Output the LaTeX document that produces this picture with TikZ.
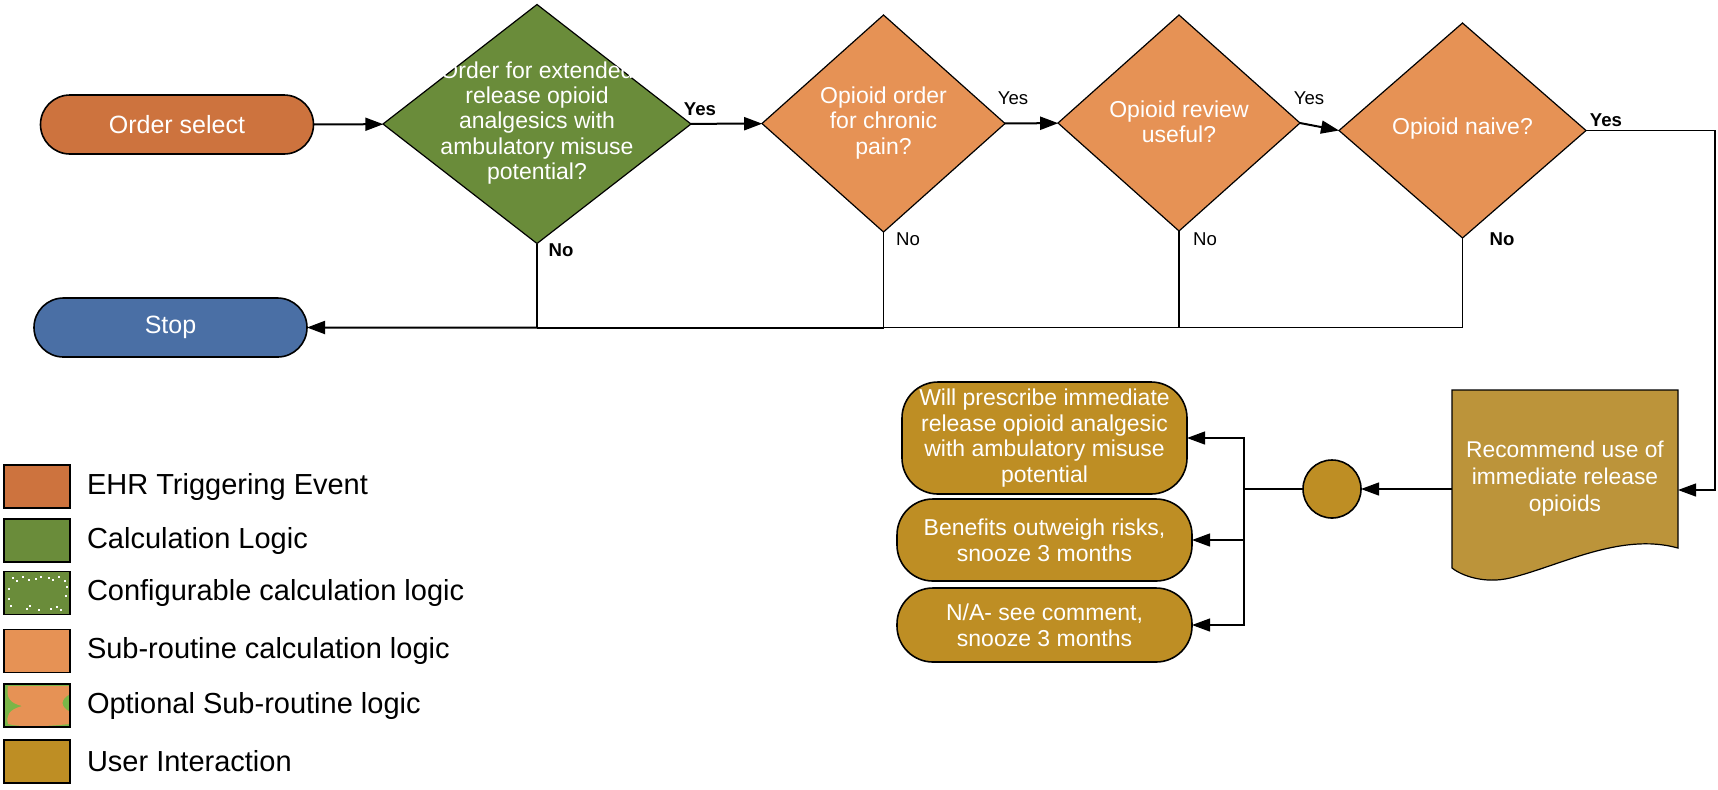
\documentclass[tikz,border=0pt]{standalone}
\usepackage{fontspec}
\setmainfont{Liberation Sans}
\usetikzlibrary{shapes.geometric,shapes.misc,arrows.meta}

\definecolor{ordercol}{RGB}{205,115,62}
\definecolor{greencol}{RGB}{106,140,58}
\definecolor{subcol}{RGB}{230,146,85}
\definecolor{stopcol}{RGB}{74,111,165}
\definecolor{usercol}{RGB}{190,142,36}
\definecolor{doccol}{RGB}{188,148,58}
\definecolor{optgreen}{RGB}{122,182,72}

\begin{document}
\begin{tikzpicture}[x=0.5pt,y=-0.5pt]
\tikzstyle{every node}+=[inner sep=0pt, outer sep=0pt]
\tikzset{
  pill/.style={rounded rectangle, draw=black, line width=0.8pt, minimum width=136.5pt, minimum height=29.5pt, text=white, font=\fontsize{12.5}{15}\selectfont},
  decide/.style={diamond, draw=black, line width=0.6pt, fill=subcol},
  qtext/.style={text=white, align=center, font=\fontsize{11.5}{12.6}\selectfont},
  choice/.style={rectangle, rounded corners=18pt, draw=black, line width=0.8pt, fill=usercol, text=white, align=center, minimum width=147.5pt, font=\fontsize{11.5}{12.8}\selectfont},
  docnode/.style={rectangle, minimum width=113pt, minimum height=89pt, text=white, align=center, font=\fontsize{11.4}{13.5}\selectfont},
  flow/.style={line width=1pt, -{Triangle[length=9pt,width=6.5pt]}},
  branch/.style={line width=0.6pt},
  lbl/.style={font=\fontsize{9.3}{11}\selectfont},
  lblb/.style={font=\fontsize{9.3}{11}\selectfont\bfseries},
  legbox/.style={draw=black, line width=0.6pt, minimum width=33pt, minimum height=21.5pt},
  legtext/.style={anchor=west, font=\fontsize{14.5}{16}\selectfont}
}
\useasboundingbox (0,0) rectangle (1718,789);

% main row
\node[pill, fill=ordercol] (order) at (177,124.5) {Order select};
\node[pill, fill=stopcol] (stop) at (170.5,327.5) {Stop};
\node[decide, fill=greencol, minimum width=154pt, minimum height=119.5pt] (d1) at (537,124) {};
\node[qtext] (d1txt) at (537,123) {Order for extended\\release opioid\\analgesics with\\ambulatory misuse\\potential?};
\node[decide, minimum width=121.5pt, minimum height=108.5pt] (d2) at (883.5,123.5) {};
\node[qtext] (d2txt) at (883.5,123) {Opioid order\\for chronic\\pain?};
\node[decide, minimum width=121pt, minimum height=108pt] (d3) at (1179,123) {};
\node[qtext] (d3txt) at (1179,122) {Opioid review\\useful?};
\node[decide, minimum width=123.5pt, minimum height=107.5pt] (d4) at (1462.5,130.5) {};
\node[qtext] (d4txt) at (1462.5,129) {Opioid naive?};

\draw[flow] (order) -- (d1);
\draw[flow] (d1) -- (d2);
\draw[flow] (d2) -- (d3);
\draw[flow] (d3.east) -- (d4.west);

\node[lblb] (y1) at (700,109) {Yes};
\node[lblb] (n1) at (561,250) {No};
\node[lbl] (y2) at (1013,98) {Yes};
\node[lbl] (n2) at (908,239) {No};
\node[lbl] (y3) at (1309,98) {Yes};
\node[lbl] (n3) at (1205,239) {No};
\node[lblb] (y4) at (1606,120) {Yes};
\node[lblb] (n4) at (1502,239) {No};

% no branches back to stop
\draw[branch] (d1.south) -- (d1.south |- stop);
\draw[branch] (d2.south) -- (d2.south |- stop);
\draw[branch] (d3.south) -- (d3.south |- stop);
\draw[branch] (d4.south) |- (d2.south |- stop);
\draw[line width=1pt] (d2.south |- stop) -- (d1.south |- stop);
\draw[flow] (d1.south |- stop) -- (stop);

% recommendation
\draw[fill=doccol, line width=0.6pt] (1452,390) -- (1678,390) -- (1678,548)
  .. controls (1620,532) and (1560,566) .. (1510,578)
  .. controls (1485,584) and (1462,576) .. (1452,568) -- cycle;
\node[docnode] (rec) at (1565,479) {Recommend use of\\immediate release\\opioids};
\coordinate (turn) at (1715,490);
\draw[flow, line width=0.6pt] (d4.east) -| (turn) -- (turn -| rec.east);

\node[circle, draw=black, line width=0.8pt, fill=usercol, minimum size=29pt] (jn) at (1332,489) {};
\draw[flow, line width=0.6pt] (rec.west |- jn) -- (jn);

\node[choice, minimum width=142.5pt, minimum height=56pt] (b1) at (1044.5,438) {Will prescribe immediate\\release opioid analgesic\\with ambulatory misuse\\potential};
\node[choice, minimum height=41pt] (b2) at (1044.5,540) {Benefits outweigh risks,\\snooze 3 months};
\node[choice, minimum height=37pt] (b3) at (1044.5,625) {N/A- see comment,\\snooze 3 months};

\coordinate (split) at (1244,489);
\draw[line width=1.2pt] (jn) -- (split);
\draw[flow, line width=0.6pt] (split) |- (b1);
\draw[flow, line width=0.6pt] (split) |- (b2);
\draw[flow, line width=0.6pt] (split) |- (b3);

% legend
\foreach \i/\y/\col/\txt in {1/486.5/ordercol/EHR Triggering Event,
    2/540.5/greencol/Calculation Logic,
    3/593/greencol/Configurable calculation logic,
    4/651/subcol/Sub-routine calculation logic,
    5/705.5/optgreen/Optional Sub-routine logic,
    6/761.5/usercol/User Interaction}{
  \node[legbox, fill=\col] (lg\i) at (37,\y) {};
  \node[legtext] (lt\i) at (87,\y) {\txt};
}
\foreach \px/\py in {12/577,16/580,22/576,28/579,35/578,40/576,48/577,52/579,58/576,64/580,
    66/586,65/595,8/598,10/605,26/608,29/605,38/609,50/608,56/606,60/609,8/588}
  \fill[white] (\px,\py) rectangle ++(2,2);
\fill[subcol] (8,686) -- (70,686) -- (70,694) .. controls (60,700) and (60,706) .. (70,712)
  -- (70,724) .. controls (40,727) and (20,727) .. (8,724)
  .. controls (6,716) and (8,710) .. (22,706) .. controls (10,703) and (6,698) .. (8,686) -- cycle;
\draw[line width=0.6pt] (lg5.north west) rectangle (lg5.south east);
\end{tikzpicture}
\end{document}
